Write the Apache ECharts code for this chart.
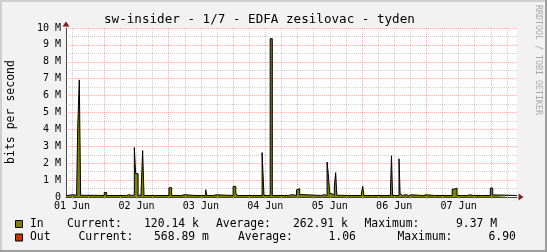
<!DOCTYPE html>
<html><head><meta charset="utf-8">
<script src="https://cdn.jsdelivr.net/npm/echarts@6/dist/echarts.min.js"></script>
<style>html,body{margin:0;padding:0;background:#F2F2F2;}#c{width:547px;height:252px;}</style>
</head><body><div id="c"></div>
<script>
// ---- texts ----
const titleText = 'sw-insider - 1/7 - EDFA zesilovac - tyden';
const yAxisName = 'bits per second';
const watermark = 'RRDTOOL / TOBI OETIKER';
// ---- x axis: hours since 01 Jun 00:00 ----
const X_MIN = 9.75, X_MAX = 177.75;
const dayLabels = ['01 Jun', '02 Jun', '03 Jun', '04 Jun', '05 Jun', '06 Jun', '07 Jun'];
const dayLabelHours = [12, 36, 60, 84, 108, 132, 156];
const majorGridHours = [24, 48, 72, 96, 120, 144, 168];
const minorGridHours = [12, 18, 30, 36, 42, 54, 60, 66, 78, 84, 90, 102, 108, 114, 126, 132, 138, 150, 156, 162, 174];
// ---- y axis ----
const yTickValues = [0, 1e6, 2e6, 3e6, 4e6, 5e6, 6e6, 7e6, 8e6, 9e6, 10e6];
const yTickLabels = ['0', '1 M', '2 M', '3 M', '4 M', '5 M', '6 M', '7 M', '8 M', '9 M', '10 M'];
const yMinorGrid = [0.5e6, 1.5e6, 2.5e6, 3.5e6, 4.5e6, 5.5e6, 6.5e6, 7.5e6, 8.5e6, 9.5e6];
// ---- In traffic: [hour, bits per second], held until the next sample ----
const inSamples = [
  [9.75, 90000], [10.5, 140000], [12.3, 90000], [13.7, 140000], [14.1, 4030000], [14.7, 6930000],
  [15.2, 100000], [19.7, 140000], [20.3, 90000], [24.0, 270000], [24.9, 90000], [29.1, 140000],
  [29.8, 90000], [31.1, 140000], [31.8, 90000], [32.3, 140000], [33.1, 90000], [34.3, 130000],
  [35.2, 2930000], [35.7, 1380000], [36.6, 100000], [37.7, 250000], [38.3, 2750000], [38.8, 90000],
  [41.0, 140000], [41.6, 90000], [43.1, 140000], [43.7, 90000], [48.1, 550000], [49.1, 90000],
  [52.9, 140000], [53.7, 90000], [57.8, 130000], [58.4, 90000], [60.2, 130000], [60.8, 90000],
  [61.8, 430000], [62.2, 90000], [64.8, 130000], [65.6, 90000], [72.0, 630000], [73.0, 250000],
  [73.5, 90000], [81.3, 140000], [81.9, 90000], [82.8, 2630000], [83.5, 90000], [85.8, 9370000],
  [86.6, 90000], [92.7, 140000], [94.1, 90000], [95.6, 420000], [96.2, 490000], [96.8, 150000],
  [97.3, 90000], [104.9, 140000], [105.8, 90000], [107.0, 2070000], [107.45, 1380000], [108.0, 200000],
  [108.8, 100000], [109.7, 630000], [110.2, 1440000], [110.65, 100000], [112.3, 140000], [112.9, 90000],
  [114.6, 140000], [115.2, 90000], [116.0, 140000], [116.6, 90000], [118.3, 140000], [118.9, 90000],
  [119.8, 240000], [120.3, 630000], [120.7, 90000], [123.9, 130000], [124.5, 90000], [130.6, 330000],
  [131.0, 2440000], [131.4, 90000], [133.8, 2260000], [134.2, 200000], [134.8, 90000], [135.1, 140000],
  [136.5, 90000], [137.4, 130000], [138.4, 90000], [142.6, 130000], [144.0, 90000], [147.0, 130000],
  [147.7, 90000], [153.6, 470000], [154.5, 530000], [155.4, 90000], [157.1, 130000], [157.7, 90000],
  [159.3, 130000], [160.1, 90000], [161.6, 130000], [162.3, 90000], [164.5, 130000], [165.2, 90000],
  [167.8, 530000], [168.7, 120000], [170.5, 90000], [177.75, 100000]
];
// ---- legend ----
const seriesNames = ['In', 'Out'];
const legendCurrent = ['120.14 k', '568.89 m'];
const legendAverage = ['262.91 k', '1.06'];
const legendMaximum = ['9.37 M', '6.90'];

const FONT = '"DejaVu Sans Mono", monospace';
const COL_IN = '#808000', COL_OUT = '#CC3300';
const GRID_MINOR = 'rgba(143,143,143,0.42)';
const GRID_MAJOR = 'rgba(230,80,80,0.42)';

const chart = echarts.init(document.getElementById('c'), null, {renderer: 'canvas'});

function gridSeries(xs, ys, color) {
  return {
    type: 'line', xAxisIndex: 0, yAxisIndex: 0, data: [], silent: true, z: 1,
    markLine: {
      silent: true, symbol: ['none', 'none'], animation: false,
      label: {show: false}, emphasis: {disabled: true},
      lineStyle: {color: color, width: 1, type: [1, 1]},
      data: xs.map(v => ({xAxis: v})).concat(ys.map(v => ({yAxis: v})))
    }
  };
}

const legendRows = [
  {y: 224, color: COL_IN, pos: [30, 67, 144, 216, 293, 364.5, 456]},
  {y: 237.5, color: COL_OUT, pos: [30, 78.5, 154, 238, 328.5, 397.5, 488.5]}
];
const graphics = [
  {type: 'rect', shape: {x: 0, y: 0, width: 547, height: 2}, style: {fill: '#CFCFCF'}},
  {type: 'rect', shape: {x: 0, y: 0, width: 2, height: 252}, style: {fill: '#CFCFCF'}},
  {type: 'rect', shape: {x: 0, y: 250, width: 547, height: 2}, style: {fill: '#9E9E9E'}},
  {type: 'rect', shape: {x: 545, y: 0, width: 2, height: 252}, style: {fill: '#9E9E9E'}},
  {type: 'text', x: 104, y: 19.5, style: {text: titleText, font: '12.6px ' + FONT, fill: '#000', verticalAlign: 'middle', align: 'left'}},
  {type: 'text', x: 11, y: 112, rotation: Math.PI / 2, style: {text: yAxisName, font: '11.5px ' + FONT, fill: '#000', align: 'center', verticalAlign: 'middle'}},
  {type: 'text', x: 538, y: 60, rotation: -Math.PI / 2, style: {text: watermark, font: '8.3px ' + FONT, fill: '#A8A8A8', align: 'center', verticalAlign: 'middle'}}
];
legendRows.forEach((r, i) => {
  graphics.push({type: 'rect', shape: {x: 15.5, y: r.y - 3.5, width: 7, height: 7}, style: {fill: r.color, stroke: '#000', lineWidth: 1}});
  const parts = [seriesNames[i], 'Current:', legendCurrent[i], 'Average:', legendAverage[i], 'Maximum:', legendMaximum[i]];
  parts.forEach((t, k) => graphics.push({type: 'text', x: r.pos[k], y: r.y, style: {text: t, font: '11.4px ' + FONT, fill: '#000', verticalAlign: 'middle', align: 'left'}}));
});

const arrowAxisLine = {show: true, symbol: ['none', 'triangle'], symbolSize: [7, 5], symbolOffset: [0, 4], lineStyle: {color: '#801F1F', width: 0}};

chart.setOption({
  animation: false,
  backgroundColor: '#F2F2F2',
  grid: {left: 66, right: 30, top: 28, bottom: 55, show: true, backgroundColor: '#FFFFFF', borderWidth: 0},
  xAxis: [
    {type: 'value', min: X_MIN, max: X_MAX, position: 'bottom',
     axisLine: {show: true, onZero: false, lineStyle: {color: '#444', width: 1}},
     axisTick: {show: true, customValues: minorGridHours.concat(majorGridHours), length: 2, lineStyle: {color: '#B0B0B0'}},
     axisLabel: {customValues: dayLabelHours, formatter: v => dayLabels[dayLabelHours.indexOf(v)], fontFamily: FONT, fontSize: 10, color: '#000', margin: 4},
     splitLine: {show: false}},
    {type: 'value', min: X_MIN, max: X_MAX, position: 'bottom', axisLine: Object.assign({onZero: false}, arrowAxisLine),
     axisTick: {show: false}, axisLabel: {show: false}, splitLine: {show: false}}
  ],
  yAxis: [
    {type: 'value', min: 0, max: 10e6, interval: 1e6, position: 'left',
     axisLine: {show: true, onZero: false, lineStyle: {color: '#444', width: 1}},
     axisTick: {show: false},
     axisLabel: {formatter: v => yTickLabels[yTickValues.indexOf(v)], fontFamily: FONT, fontSize: 10, color: '#000', margin: 5},
     splitLine: {show: false}},
    {type: 'value', min: 0, max: 10e6, interval: 1e6, position: 'left', axisLine: Object.assign({onZero: false}, arrowAxisLine),
     axisTick: {show: false}, axisLabel: {show: false}, splitLine: {show: false}}
  ],
  series: [
    gridSeries(minorGridHours, yMinorGrid, GRID_MINOR),
    gridSeries(majorGridHours, yTickValues.slice(1), GRID_MAJOR),
    {name: 'In', type: 'line', xAxisIndex: 0, yAxisIndex: 0, step: 'end', data: inSamples,
     symbol: 'none', showSymbol: false, silent: true, z: 10,
     lineStyle: {color: '#000', width: 1}, areaStyle: {color: COL_IN, opacity: 1}}
  ],
  graphic: graphics
});
</script></body></html>
